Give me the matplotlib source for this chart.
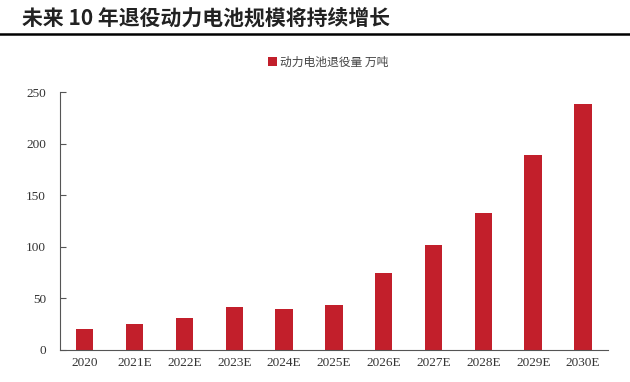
import matplotlib.pyplot as plt
from matplotlib.lines import Line2D

plt.rcParams['font.family'] = ['Noto Sans CJK SC', 'DejaVu Sans']

years = ["2020", "2021E", "2022E", "2023E", "2024E", "2025E",
         "2026E", "2027E", "2028E", "2029E", "2030E"]
retired = [20, 25.5, 30.7, 41.4, 39.7, 43.6, 74.3, 101.5, 133, 189, 238]
yticks = [0, 50, 100, 150, 200, 250]

title = "未来 10 年退役动力电池规模将持续增长"
series_name = "动力电池退役量 万吨"
bar_color = "#C21F2B"

fig = plt.figure(figsize=(6.3, 3.82), dpi=100)
ax = fig.add_axes([0.095, 0.084, 0.87, 0.675])

x = range(len(years))
ax.bar(x, retired, width=0.35, color=bar_color, label=series_name)

ax.set_xlim(-0.5, len(years) - 0.5)
ax.set_ylim(0, 250)
ax.set_yticks(yticks)
ax.set_xticks(list(x))
ax.set_xticklabels(years)
for lab in ax.get_xticklabels() + ax.get_yticklabels():
    lab.set_family("Liberation Serif")
    lab.set_fontsize(9.5)
    lab.set_color("#333333")

ax.tick_params(axis="x", length=0, pad=5)
ax.tick_params(axis="y", direction="in", length=4, color="#555555", pad=10)
ax.spines["top"].set_visible(False)
ax.spines["right"].set_visible(False)
ax.spines["left"].set_color("#555555")
ax.spines["bottom"].set_color("#555555")

ax.legend(loc="center", bbox_to_anchor=(0.49, 1.116), frameon=False,
          fontsize=8.5, handlelength=0.7, handleheight=0.7, handletextpad=0.3,
          labelcolor="#444444")

fig.text(0.035, 0.953, title, fontsize=15, fontweight="bold",
         color="#222222", va="center", ha="left")
fig.add_artist(Line2D([0, 1], [0.912, 0.912], color="black", lw=1.8,
                      transform=fig.transFigure))

fig.savefig("out.png", dpi=100)
